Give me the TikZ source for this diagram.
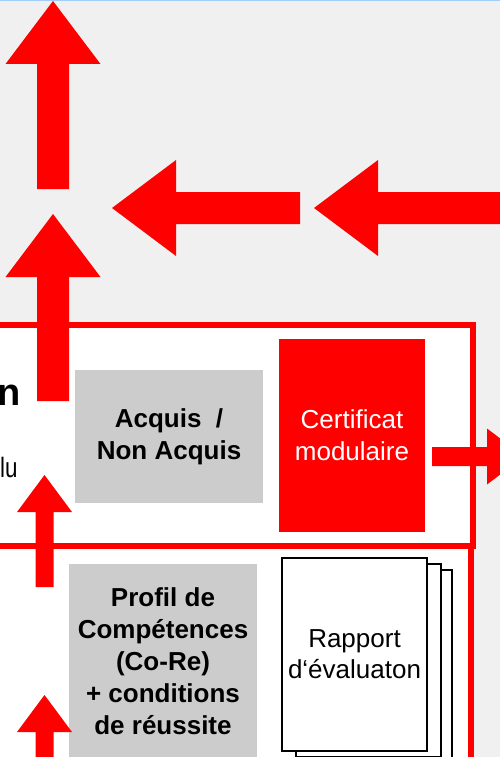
\documentclass[tikz,border=0pt]{standalone}
\usepackage{fontspec}
\setmainfont{Liberation Sans}
\definecolor{pptred}{RGB}{255,0,0}
\definecolor{boxgray}{RGB}{204,204,204}
\definecolor{slidebg}{RGB}{240,240,240}
\definecolor{edgeblue}{RGB}{160,205,250}
% block arrows: up (x, tip y, head base y, head half, shaft half, tail y)
\newcommand{\uparrowblk}[6]{\fill[pptred] (#1,#2) -- ({#1+#4},#3) -- ({#1+#5},#3) -- ({#1+#5},#6) -- ({#1-#5},#6) -- ({#1-#5},#3) -- ({#1-#4},#3) -- cycle;}
% sideways (y, tip x, head base x, head half, shaft half, tail x)
\newcommand{\sidearrowblk}[6]{\fill[pptred] (#2,#1) -- (#3,{#1-#4}) -- (#3,{#1-#5}) -- (#6,{#1-#5}) -- (#6,{#1+#5}) -- (#3,{#1+#5}) -- (#3,{#1+#4}) -- cycle;}
\begin{document}
\begin{tikzpicture}[x=1pt,y=-1pt,
  graybox/.style={fill=boxgray,inner sep=0pt,align=center,font=\fontsize{26}{32}\selectfont\bfseries},
  redbox/.style={fill=pptred,text=white,inner sep=0pt,align=center,font=\fontsize{26}{32}\selectfont},
  sheet/.style={draw=black,line width=1.2pt,fill=white,minimum width=145pt,minimum height=193pt,inner sep=0pt,align=center,font=\fontsize{26}{31}\selectfont},
  frame/.style={draw=pptred,line width=6pt,fill=white}]
\useasboundingbox (0,0) rectangle (500,757);
\clip (0,0) rectangle (500,757);
\fill[slidebg] (0,0) rectangle (500,757);
\draw[edgeblue,line width=1.5pt] (0,0.5) -- (500,0.5);
% frames
\draw[frame] (-10,546) rectangle (471,775);
\draw[frame] (-10,325) rectangle (473,546);
% boxes
\node[graybox,minimum width=188pt,minimum height=133pt] (acquis) at (169,436.5) {Acquis\ \ /\\Non Acquis};
\node[redbox,minimum width=146pt,minimum height=193pt] (certif) at (352,435.5) {Certificat\\modulaire};
\node[graybox,minimum width=188pt,minimum height=194pt] (profil) at (163,661) {Profil de\\Compétences\\(Co-Re)\\+ conditions\\de réussite};
\node[sheet] (rapportc) at (379.5,666.5) {};
\node[sheet] (rapportb) at (368.5,660.5) {};
\node[sheet] (rapport) at (354.5,654.5) {Rapport\\d‘évaluaton};
% cut texts at the left
\node[anchor=base east,inner sep=0pt,font=\fontsize{38}{40}\selectfont\bfseries] (titleend) at (20.5,405) {n};
\node[anchor=base west,inner sep=0pt,font=\fontsize{28}{32}\selectfont] (leftnote) at (0,477) {\scalebox{0.8}[1]{lu}};
% arrows
\uparrowblk{53}{1}{64}{47.5}{16}{189}
\uparrowblk{53}{214}{277}{47.5}{16}{401}
\uparrowblk{44.5}{475}{512}{27.5}{9}{587}
\uparrowblk{44.5}{695}{732}{27.5}{9}{765}
\sidearrowblk{208}{112}{176}{48}{16}{300}
\sidearrowblk{208}{314}{378}{48}{16}{510}
\sidearrowblk{456.5}{524}{487}{28}{9.5}{432}
\end{tikzpicture}
\end{document}
